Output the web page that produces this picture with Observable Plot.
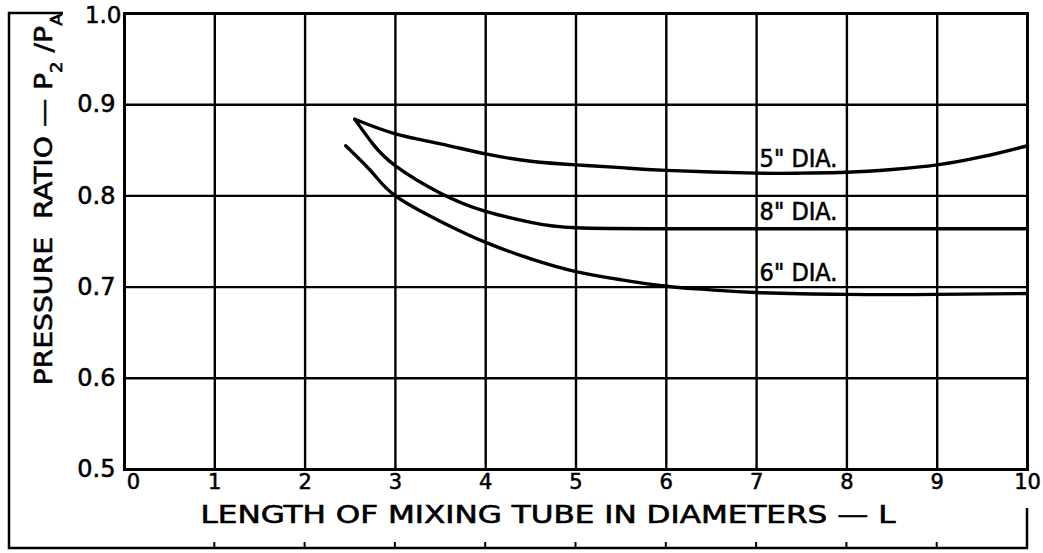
<!DOCTYPE html>
<html><head><meta charset="utf-8">
<script src="https://cdn.jsdelivr.net/npm/d3@7"></script>
<script src="https://cdn.jsdelivr.net/npm/@observablehq/plot@0.6"></script>
<style>
body{margin:0;background:#fff;}
#wrap{position:relative;width:1043px;height:553px;overflow:hidden;}
#wrap svg{position:absolute;left:0;top:0;}
#wrap text{stroke:#000;stroke-width:0.55px;}
</style></head><body><div id="wrap"></div>
<script>
// ---- data ----
const xTicks = [0, 1, 2, 3, 4, 5, 6, 7, 8, 9, 10];
const yTicks = [0.5, 0.6, 0.7, 0.8, 0.9, 1.0];

const dia5X = [2.55, 3.0, 3.5, 4.0, 4.5, 5.0, 5.5, 6.0, 7.0, 7.5, 8.0, 8.5, 9.0, 9.5, 10.0];
const dia5Y = [0.884, 0.868, 0.857, 0.846, 0.838, 0.834, 0.831, 0.828, 0.825, 0.825, 0.826, 0.829, 0.834, 0.843, 0.855];

const dia8X = [2.55, 2.75, 3.0, 3.5, 4.0, 4.5, 5.0, 6.0, 7.0, 8.0, 9.0, 10.0];
const dia8Y = [0.884, 0.857, 0.833, 0.803, 0.783, 0.771, 0.765, 0.764, 0.764, 0.764, 0.764, 0.764];

const dia6X = [2.45, 2.75, 3.0, 3.5, 4.0, 4.5, 5.0, 5.5, 6.0, 6.5, 7.0, 8.0, 9.0, 10.0];
const dia6Y = [0.855, 0.825, 0.800, 0.772, 0.749, 0.731, 0.717, 0.708, 0.701, 0.697, 0.694, 0.692, 0.692, 0.693];

const seriesNames = ['5" DIA.', '8" DIA.', '6" DIA.'];
const labelX = [7.0, 7.0, 7.0];
const labelY = [0.841, 0.782, 0.716];

const xTitle = "LENGTH OF MIXING TUBE IN DIAMETERS — L";
const yTitle = "PRESSURE  RATIO — P2 /PA";

// ---- build tables ----
const lines = [];
[[dia5X, dia5Y], [dia8X, dia8Y], [dia6X, dia6Y]].forEach(([xs, ys], i) => {
  xs.forEach((x, j) => lines.push({series: seriesNames[i], x, y: ys[j]}));
});
const labels = seriesNames.map((t, i) => ({text: t, x: labelX[i], y: labelY[i]}));

const W = 1043, H = 553;
const tickFont = "'DejaVu Sans', sans-serif";
const letterFont = "'DejaVu Sans Condensed', 'Liberation Sans Narrow', 'DejaVu Sans', sans-serif";

const chart = Plot.plot({
  width: W, height: H,
  marginLeft: 124, marginRight: 16, marginTop: 13, marginBottom: 84,
  style: {background: "#fff", color: "#000", fontFamily: tickFont, overflow: "visible"},
  x: {domain: [0, 10], label: null},
  y: {domain: [0.5, 1.0], label: null},
  marks: [
    Plot.gridX(xTicks, {stroke: "#000", strokeOpacity: 1, strokeWidth: 2.4}),
    Plot.gridY(yTicks, {stroke: "#000", strokeOpacity: 1, strokeWidth: 2.4}),
    Plot.frame({stroke: "#000", strokeWidth: 3}),
    Plot.line(lines, {x: "x", y: "y", z: "series", stroke: "#000", strokeWidth: 3.4, curve: "natural"}),
    Plot.text(labels, {x: "x", y: "y", text: "text", textAnchor: "start", dx: 3, fontSize: 25, fontFamily: letterFont, fill: "#000"}),
    Plot.axisX(xTicks.filter(d => d > 0), {tickSize: 0, tickPadding: 5, fontSize: 21, label: null, tickFormat: d => String(d)}),
    Plot.axisX(xTicks.filter(d => d === 0), {tickSize: 0, tickPadding: 5, dx: 9, fontSize: 21, label: null, tickFormat: d => String(d)}),
    Plot.axisY(yTicks.filter(d => d < 1), {tickSize: 0, tickPadding: 9, fontSize: 24, label: null, tickFormat: d3.format(".1f")}),
    Plot.axisY(yTicks.filter(d => d === 1), {tickSize: 0, tickPadding: 3, dy: 2, fontSize: 23, label: null, tickFormat: d3.format(".1f")}),
    Plot.text([xTitle], {frameAnchor: "bottom", dx: -28, dy: 53, fontSize: 24, fontFamily: letterFont, fill: "#000"}),
    Plot.text([yTitle], {frameAnchor: "left", rotate: -90, dx: -81, dy: -42, fontSize: 25, fontFamily: letterFont, fill: "#000"})
  ]
});
document.getElementById("wrap").appendChild(chart);

const svg = d3.select(chart);
// x title width as in the reference lettering
svg.selectAll("text").filter(function() { return this.textContent === xTitle; })
  .attr("textLength", 695).attr("lengthAdjust", "spacingAndGlyphs");
// subscripts in the y title
svg.selectAll("text").filter(function() { return this.textContent === yTitle; }).each(function() {
  const t = d3.select(this);
  t.text(null).attr("text-anchor", "middle");
  t.append("tspan").text("PRESSURE  RATIO — P");
  t.append("tspan").attr("baseline-shift", "sub").attr("font-size", 16).text("2");
  t.append("tspan").text(" /P");
  t.append("tspan").attr("baseline-shift", "sub").attr("font-size", 16).text("A");
  t.attr("textLength", 372).attr("lengthAdjust", "spacingAndGlyphs");
});

// outer border of the sheet, drawn with the chart's x scale
const sx = chart.scale("x");
const ov = d3.select("#wrap").append("svg").attr("width", W).attr("height", H).style("pointer-events", "none");
const bx0 = 9, by0 = 13, by1 = 548;
ov.append("path").attr("d", `M63,${by0}H${bx0}V${by1}H${sx.apply(10)}V${by1 - 40}`)
  .attr("fill", "none").attr("stroke", "#000").attr("stroke-width", 2.5);
ov.selectAll("line.tk").data(xTicks.slice(1, 10)).join("line")
  .attr("x1", d => sx.apply(d)).attr("x2", d => sx.apply(d))
  .attr("y1", by1).attr("y2", by1 - 6).attr("stroke", "#000").attr("stroke-width", 2);
</script>
</body></html>
